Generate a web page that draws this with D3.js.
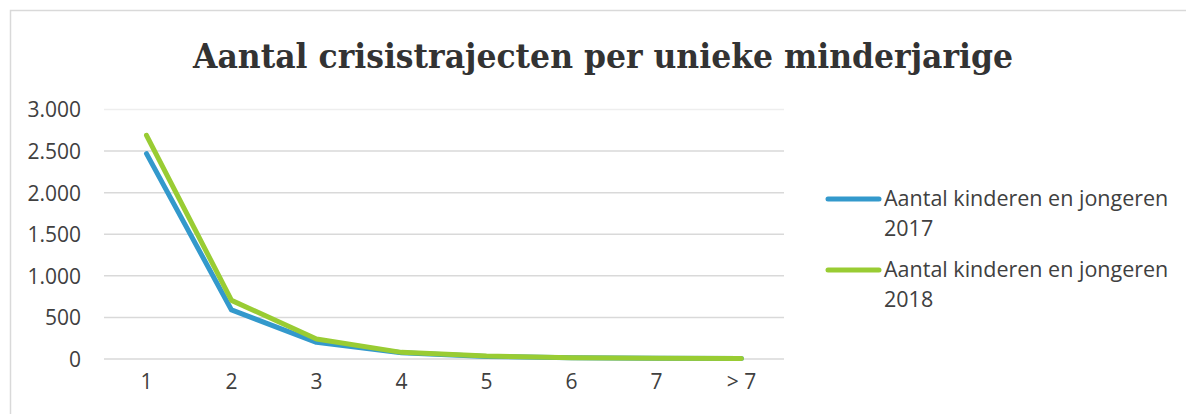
<!DOCTYPE html>
<html>
<head>
<meta charset="utf-8">
<script src="https://cdn.jsdelivr.net/npm/d3@7"></script>
<style>
  body { margin: 0; background: #fff; }
  text { font-family: "Open Sans", Lato, sans-serif; fill: #404040; }
  .title { font-family: "DejaVu Serif", serif; font-weight: bold; fill: #333333; }
</style>
</head>
<body>
<svg width="1186" height="414"></svg>
<script>
  // categories = aantal crisistrajecten
  var categories = ['1', '2', '3', '4', '5', '6', '7', '> 7'];
  var values2017 = [2470, 590, 200, 75, 30, 15, 8, 5];
  var values2018 = [2690, 705, 240, 80, 35, 15, 8, 6];
  var yTicks = [0, 500, 1000, 1500, 2000, 2500, 3000];
  var seriesNames = ['Aantal kinderen en jongeren 2017', 'Aantal kinderen en jongeren 2018'];
  var colors = ['#3399cc', '#99cc33'];

  var svg = d3.select('svg');

  // chart frame
  svg.append('rect')
    .attr('x', 10.5).attr('y', 10.5)
    .attr('width', 1180).attr('height', 410)
    .attr('fill', '#fff')
    .attr('stroke', '#d9d9d9')
    .attr('stroke-width', 1.5);

  svg.append('text')
    .attr('class', 'title')
    .attr('x', 603).attr('y', 68)
    .attr('text-anchor', 'middle')
    .attr('font-size', 33)
    .attr('textLength', 820)
    .attr('lengthAdjust', 'spacingAndGlyphs')
    .text('Aantal crisistrajecten per unieke minderjarige');

  var x = d3.scaleBand().domain(categories).range([104, 784]);
  var y = d3.scaleLinear().domain([0, 3000]).range([359, 109.5]);

  var fmt = function (d) { return d3.format(',')(d).replace(/,/g, '.'); };

  // gridlines
  svg.append('g')
    .selectAll('line')
    .data(yTicks)
    .join('line')
    .attr('x1', 104).attr('x2', 784)
    .attr('y1', function (d) { return y(d); })
    .attr('y2', function (d) { return y(d); })
    .attr('stroke', function (d) { return d === 3000 ? '#eeeeee' : '#d9d9d9'; })
    .attr('stroke-width', 1.5);

  // y axis labels
  var yAxis = svg.append('g')
    .attr('transform', 'translate(81,0)')
    .call(d3.axisLeft(y).tickValues(yTicks).tickFormat(fmt).tickSize(0).tickPadding(0));
  yAxis.select('.domain').remove();
  yAxis.selectAll('text')
    .attr('font-size', 21)
    .attr('dy', '0.35em')
    .style('font-family', '"Open Sans", sans-serif')
    .attr('fill', '#404040');

  // x axis labels
  var xAxis = svg.append('g')
    .attr('transform', 'translate(0,374)')
    .call(d3.axisBottom(x).tickSize(0).tickPadding(0));
  xAxis.select('.domain').remove();
  xAxis.selectAll('text')
    .attr('font-size', 21)
    .attr('dy', '0.71em')
    .style('font-family', '"Open Sans", sans-serif')
    .attr('fill', '#404040');

  var line = d3.line()
    .x(function (d, i) { return x(categories[i]) + x.bandwidth() / 2; })
    .y(function (d) { return y(d); });

  [values2017, values2018].forEach(function (vals, i) {
    svg.append('path')
      .datum(vals)
      .attr('d', line)
      .attr('fill', 'none')
      .attr('stroke', colors[i])
      .attr('stroke-width', 5)
      .attr('stroke-linejoin', 'round')
      .attr('stroke-linecap', 'round');
  });

  // legend
  var legend = svg.append('g');
  seriesNames.forEach(function (name, i) {
    var ly = 199 + i * 71;
    legend.append('line')
      .attr('x1', 828).attr('x2', 879)
      .attr('y1', ly).attr('y2', ly)
      .attr('stroke', colors[i])
      .attr('stroke-width', 5)
      .attr('stroke-linecap', 'round');
    var words = name.split(' ');
    var t = legend.append('text')
      .attr('x', 884).attr('y', ly + 7)
      .attr('font-size', 21.5);
    t.append('tspan').attr('x', 884).text(words.slice(0, -1).join(' '));
    t.append('tspan').attr('x', 884).attr('dy', 30).text(words[words.length - 1]);
  });
</script>
</body>
</html>
